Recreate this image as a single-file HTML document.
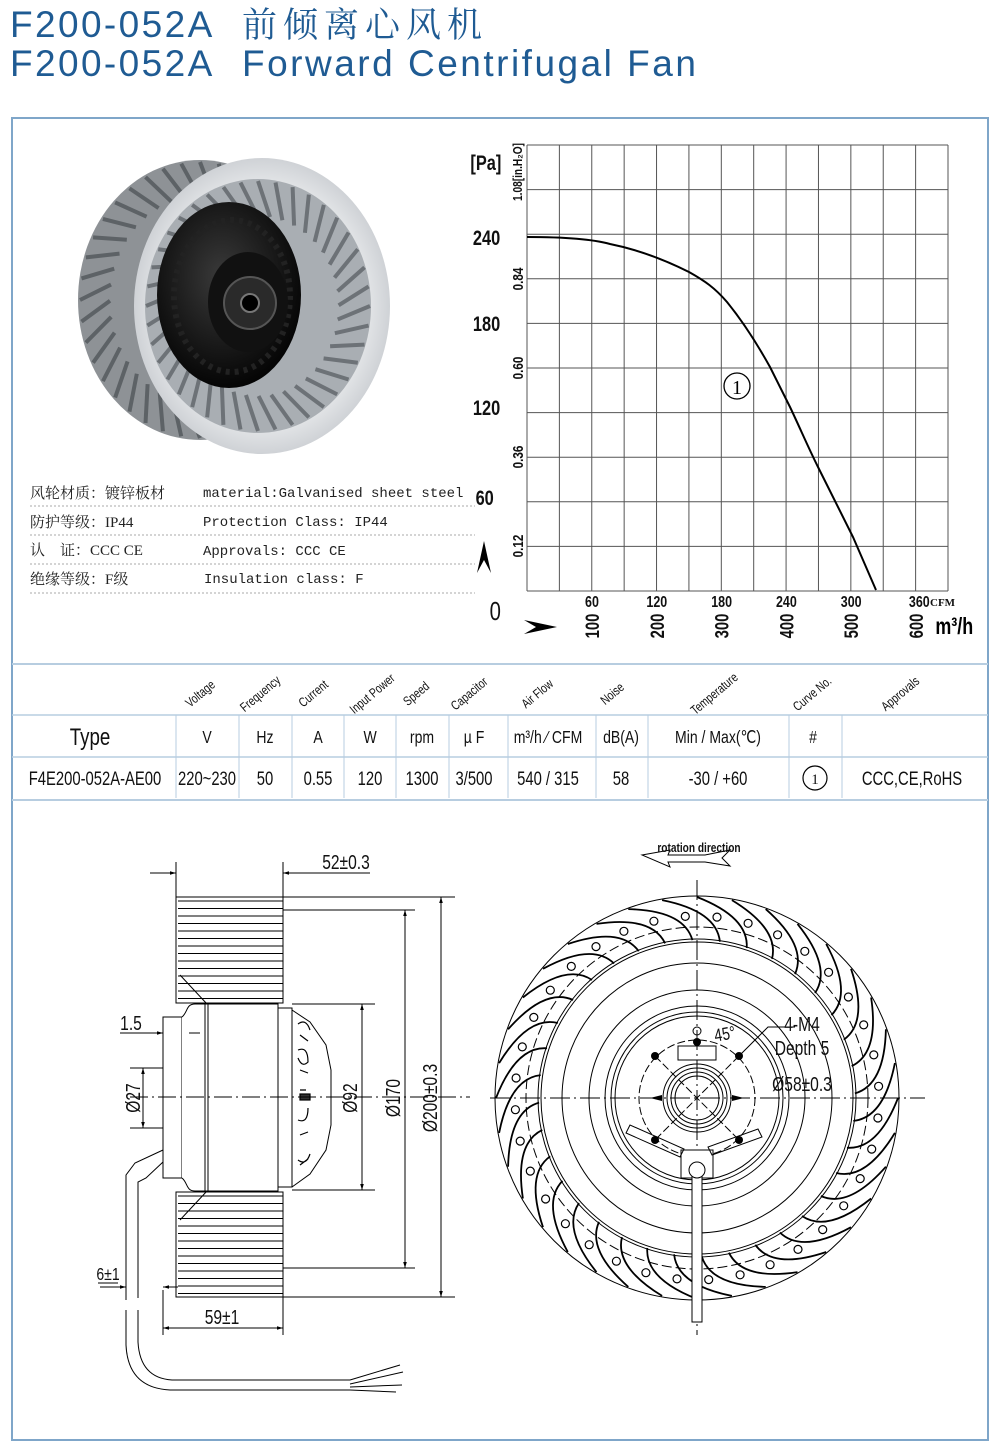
<!DOCTYPE html>
<html><head><meta charset="utf-8">
<style>
html,body{margin:0;padding:0;background:#fff;}
svg{display:block;}
.c{transform-box:fill-box;transform-origin:center;transform:scaleX(.78);font-family:"Liberation Sans",sans-serif;}
</style></head>
<body>
<svg id="s" width="1000" height="1451" viewBox="0 0 1000 1451" xmlns="http://www.w3.org/2000/svg">
<defs>
<marker id="a" viewBox="0 0 10 10" refX="10" refY="5" markerWidth="8" markerHeight="6" orient="auto-start-reverse"><path d="M0,2 L10,5 L0,8 Z" fill="#000"/></marker>
<radialGradient id="rim" cx="50%" cy="50%" r="50%"><stop offset="80%" stop-color="#e6e8ea"/><stop offset="100%" stop-color="#cfd2d6"/></radialGradient>
<radialGradient id="mot" cx="45%" cy="40%" r="60%"><stop offset="0%" stop-color="#3a3a3a"/><stop offset="100%" stop-color="#050505"/></radialGradient>
</defs>
<!-- Title -->
<text x="10" y="37" font-family="Liberation Sans,sans-serif" font-size="37" fill="#1f5b93" letter-spacing="2.4">F200-052A</text>
<text x="242" y="37" font-family="'Noto Serif CJK SC',serif" font-size="35" fill="#1f5b93" letter-spacing="6">前倾离心风机</text>
<text x="10" y="76" font-family="Liberation Sans,sans-serif" font-size="37" fill="#1f5b93" letter-spacing="2.4">F200-052A</text>
<text x="242" y="76" font-family="Liberation Sans,sans-serif" font-size="37" fill="#1f5b93" letter-spacing="2.5">Forward Centrifugal Fan</text>
<!-- Frame -->
<rect x="12" y="118" width="976" height="1322" fill="none" stroke="#7fa6c9" stroke-width="2"/>
<line x1="12" y1="664" x2="988" y2="664" stroke="#b7cde0" stroke-width="2"/>
<line x1="12" y1="800" x2="988" y2="800" stroke="#b7cde0" stroke-width="2"/>

<!-- Fan photo -->
<ellipse cx="200" cy="300" rx="122" ry="140" fill="#8e9296"/>
<g id="backbl"></g>
<ellipse cx="262" cy="306" rx="128" ry="148" fill="url(#rim)"/>
<ellipse cx="258" cy="306" rx="113" ry="127" fill="#a9aeb3"/>
<g id="frontbl"></g>
<ellipse cx="229" cy="295" rx="72" ry="93" fill="url(#mot)"/>
<ellipse cx="232" cy="296" rx="58" ry="76" fill="none" stroke="#222" stroke-width="6" stroke-dasharray="4 5"/>
<ellipse cx="248" cy="302" rx="40" ry="50" fill="#111"/>
<circle cx="250" cy="303" r="26" fill="#2a2a2a" stroke="#555" stroke-width="2"/>
<circle cx="250" cy="303" r="9" fill="#000" stroke="#777" stroke-width="2"/>

<!-- Specs -->
<g font-size="15" fill="#222">
<text x="30" y="498" font-family="'Noto Serif CJK SC',serif">风轮材质：镀锌板材</text>
<text x="30" y="527" font-family="'Liberation Serif','Noto Serif CJK SC',serif">防护等级：IP44</text>
<text x="30" y="555" font-family="'Liberation Serif','Noto Serif CJK SC',serif">认&#160;&#160;&#160;&#160;证：CCC CE</text>
<text x="30" y="584" font-family="'Liberation Serif','Noto Serif CJK SC',serif">绝缘等级：F级</text>
</g>
<g font-size="14" fill="#222" font-family="'Liberation Mono',monospace">
<text x="203" y="497">material:Galvanised sheet steel</text>
<text x="203" y="526">Protection Class: IP44</text>
<text x="203" y="555">Approvals: CCC  CE</text>
<text x="204" y="583">Insulation class: F</text>
</g>
<g stroke="#aaa" stroke-dasharray="2 2" stroke-width="1">
<line x1="30" y1="506" x2="475" y2="506"/><line x1="30" y1="535" x2="475" y2="535"/>
<line x1="30" y1="564" x2="475" y2="564"/><line x1="30" y1="593" x2="475" y2="593"/>
</g>

<!-- Chart -->
<g id="grid" stroke="#555" stroke-width="1"></g>
<path d="M527,237 C560,237 592,239 610,244 C640,250 665,260 689,272 C705,281 715,288 727,302 C740,318 755,340 770,367 L790,407 C800,428 808,447 818,467 L853,537 L876,590" fill="none" stroke="#000" stroke-width="2"/>
<circle cx="737" cy="386" r="13" fill="none" stroke="#000" stroke-width="1.3"/>
<text x="737" y="394" text-anchor="middle" font-family="'Liberation Serif',serif" font-size="20">1</text>
<g font-size="21" font-weight="bold" fill="#111">
<text class="c" x="466" y="170">[Pa]</text>
<text class="c" x="469" y="245">240</text>
<text class="c" x="469" y="331">180</text>
<text class="c" x="469" y="415">120</text>
<text class="c" x="473" y="505">60</text>
<text class="c" x="488" y="620" font-size="26" font-weight="normal">0</text>
</g>
<path d="M484,541 L491,573 L484,560 L477,573 Z" fill="#000"/>
<path d="M557,627 L524,620 L536,627 L524,634 Z" fill="#000"/>
<g transform="rotate(-90 517 172)"><text class="c" x="517" y="177" text-anchor="middle" font-size="13" font-weight="bold" fill="#111">1.08[in.H₂O]</text></g>
<g font-size="15" font-weight="bold" fill="#111" id="ylab"></g>
<g font-size="16" font-weight="bold" fill="#111" id="xlab"></g>
<text class="c" x="930" y="634" font-size="23" font-weight="bold">m³/h</text>

<!-- Table -->
<g stroke="#b7cde0" stroke-width="1.5">
<line x1="12" y1="715" x2="988" y2="715"/>
<line x1="12" y1="757" x2="988" y2="757"/>
</g>
<g stroke="#b7cde0" stroke-width="1" id="vcols"></g>
<g id="thead" font-size="13" fill="#111"></g>
<text class="c" x="90" y="745" text-anchor="middle" font-size="24" fill="#111">Type</text>
<g id="tu" font-size="18" fill="#111"></g>
<g id="tr" font-size="19" fill="#111"></g>
<circle cx="815" cy="778" r="12" fill="none" stroke="#000" stroke-width="1.2"/>

<!-- Left view drawing -->
<g fill="none" stroke="#000" stroke-width="1">
<g id="lblades"></g>
<rect x="176" y="897" width="107" height="106"/>
<rect x="176" y="1192" width="107" height="105"/>
<path d="M180,975 L207,1004 M180,1220 L207,1191"/>
<rect x="163" y="1017" width="19" height="161" fill="#fff"/>
<path d="M182,1017 C188,1012 186,1004 195,1004 L278,1004 L278,1191 L195,1191 C186,1191 188,1183 182,1178" fill="#fff"/>
<line x1="205" y1="1004" x2="205" y2="1191"/><line x1="208" y1="1004" x2="208" y2="1191"/>
<rect x="278" y="1008" width="14" height="179" fill="#fff"/>
<path d="M292,1010 L310,1022 L326,1045 L331,1070 L331,1125 L326,1150 L310,1174 L292,1187"/>
<g stroke-width="1.2">
<path d="M298,1024 q8,-6 12,6 M298,1050 q10,-4 10,12 q-6,6 -10,-4 M300,1090 l6,0 M298,1120 q10,4 10,-12 M298,1160 q8,6 12,-6 M300,1035 l8,6 M300,1070 l8,3 M300,1135 l8,-3 M300,1165 l8,-6"/>
<rect x="300" y="1094" width="10" height="6" fill="#333"/>
</g>
<path d="M163,1150 L135,1163 L126,1175 L126,1300 M163,1162 L146,1178 L138,1182 L138,1298"/>
<path d="M126,1310 L126,1345 Q128,1388 170,1390 L350,1390 M138,1310 L138,1342 Q140,1378 172,1380 L350,1380"/>
<path d="M350,1380 L400,1365 M350,1384 L403,1372 M350,1387 L402,1385 M350,1390 L396,1392"/>
</g>
<!-- Left dims -->
<g stroke="#000" stroke-width="1" fill="none">
<path d="M176,862 L176,897 M283,862 L283,897"/>
<line x1="150" y1="873" x2="176" y2="873" marker-end="url(#a)"/>
<line x1="370" y1="873" x2="283" y2="873" marker-end="url(#a)"/>
<path d="M283,897 L455,897 M283,1297 L455,1297 M283,910 L415,910 M283,1268 L415,1268 M292,1004 L375,1004 M292,1190 L375,1190"/>
<line x1="441" y1="1097" x2="441" y2="897" marker-end="url(#a)"/><line x1="441" y1="1097" x2="441" y2="1297" marker-end="url(#a)"/>
<line x1="405" y1="1097" x2="405" y2="910" marker-end="url(#a)"/><line x1="405" y1="1097" x2="405" y2="1268" marker-end="url(#a)"/>
<line x1="362" y1="1097" x2="362" y2="1004" marker-end="url(#a)"/><line x1="362" y1="1097" x2="362" y2="1190" marker-end="url(#a)"/>
<path d="M130,1068 L163,1068 M130,1128 L163,1128"/>
<line x1="143" y1="1098" x2="143" y2="1068" marker-end="url(#a)"/><line x1="143" y1="1098" x2="143" y2="1128" marker-end="url(#a)"/>
<line x1="120" y1="1033" x2="163" y2="1033" marker-end="url(#a)"/><line x1="200" y1="1033" x2="189" y2="1033"/>
<line x1="100" y1="1287" x2="126" y2="1287" marker-end="url(#a)"/><line x1="178" y1="1287" x2="163" y2="1287" marker-end="url(#a)"/>
<path d="M163,1290 L163,1335 M283,1297 L283,1335"/>
<line x1="223" y1="1328" x2="163" y2="1328" marker-end="url(#a)"/><line x1="223" y1="1328" x2="283" y2="1328" marker-end="url(#a)"/>
<line x1="130" y1="1097" x2="470" y2="1097" stroke-dasharray="18 4 2 4"/>
<path d="M323,873 L370,873 M120,1033 L142,1033 M98,1283 L118,1283"/>
</g>
<g font-size="20" fill="#111">
<text class="c" x="346" y="869" text-anchor="middle">52±0.3</text>
<text class="c" x="131" y="1030" text-anchor="middle">1.5</text>
<text class="c" x="108" y="1280" text-anchor="middle" font-size="18">6±1</text>
<text class="c" x="222" y="1324" text-anchor="middle">59±1</text>
<g transform="rotate(-90 133 1098)"><text class="c" x="133" y="1105" text-anchor="middle">Ø27</text></g>
<g transform="rotate(-90 350 1098)"><text class="c" x="350" y="1105" text-anchor="middle">Ø92</text></g>
<g transform="rotate(-90 393 1098)"><text class="c" x="393" y="1105" text-anchor="middle">Ø170</text></g>
<g transform="rotate(-90 430 1098)"><text class="c" x="430" y="1105" text-anchor="middle">Ø200±0.3</text></g>
</g>

<!-- Right view -->
<g fill="none" stroke="#000" stroke-width="1">
<circle cx="697" cy="1098" r="202"/>
<circle cx="697" cy="1098" r="171" stroke-dasharray="10 4"/>
<circle cx="697" cy="1098" r="159"/>
<circle cx="697" cy="1098" r="156"/>
<circle cx="697" cy="1098" r="135"/>
<circle cx="697" cy="1098" r="108"/>
<circle cx="697" cy="1098" r="92"/>
<circle cx="697" cy="1098" r="86"/>
<circle cx="697" cy="1098" r="82"/>
<circle cx="697" cy="1098" r="58" stroke-dasharray="8 3"/>
<circle cx="697" cy="1098" r="34"/><circle cx="697" cy="1098" r="30"/><circle cx="697" cy="1098" r="26"/><circle cx="697" cy="1098" r="22"/>
<g id="rblades"></g>
<line x1="697" y1="880" x2="697" y2="1335" stroke-dasharray="20 4 2 4"/>
<line x1="490" y1="1098" x2="925" y2="1098" stroke-dasharray="20 4 2 4"/>
<path d="M655,1056 L739,1140 M739,1056 L655,1140" stroke-dasharray="8 3"/>
<rect x="678" y="1046" width="38" height="14"/>
<path d="M681,1150 L681,1178 L713,1178 L713,1150 Z" fill="#fff"/>
<path d="M692,1165 L692,1322 L702,1322 L702,1165" fill="#fff"/>
<circle cx="697" cy="1170" r="8" fill="#fff"/>
<circle cx="697" cy="1031" r="4"/>
<path d="M630,1125 l-4,8 l54,24 l4,-8 Z M712,1155 l50,-18 l-4,-8 l-50,18 Z"/>
<path d="M739,1056 L768,1027 L795,1027"/>
<path d="M642,855 L670,850 L668,855 L705,855 L730,850 L722,858 L730,866 L705,862 L668,862 L670,867 Z"/>
</g>
<g fill="#000">
<circle cx="697" cy="1042" r="4"/><circle cx="655" cy="1056" r="4"/><circle cx="739" cy="1056" r="4"/><circle cx="655" cy="1140" r="4"/><circle cx="739" cy="1140" r="4"/>
<path d="M650,1098 l12,-3 l0,6 Z M744,1098 l-12,-3 l0,6 Z"/>
</g>
<g font-size="20" fill="#111">
<text class="c" x="802" y="1031" text-anchor="middle">4-M4</text>
<text class="c" x="802" y="1055" text-anchor="middle">Depth 5</text>
<text class="c" x="802" y="1091" text-anchor="middle">Ø58±0.3</text>
<g transform="rotate(-10 725 1035)"><text class="c" x="725" y="1040" font-size="18" text-anchor="middle">45°</text></g>
<text class="c" x="699" y="852" font-size="13" font-weight="bold" text-anchor="middle">rotation direction</text>
</g>
</svg>
<script>
var NS="http://www.w3.org/2000/svg";
function el(p,t,a,txt){var e=document.createElementNS(NS,t);for(var k in a)e.setAttribute(k,a[k]);if(txt!=null)e.textContent=txt;(typeof p=="string"?document.getElementById(p):p).appendChild(e);return e;}
function rtext(p,x,y,ang,txt,attrs){var g=el(p,'g',{transform:'rotate('+ang+' '+x+' '+y+')'});var a={x:x,y:y,'text-anchor':'middle','class':'c'};for(var k in attrs)a[k]=attrs[k];el(g,'text',a,txt);}
var gx0=527,gx1=948,gy0=145,gy1=591;
for(var i=0;i<=13;i++){var x=gx0+(gx1-gx0)*i/13;el('grid','line',{x1:x,y1:gy0,x2:x,y2:gy1});}
for(var j=0;j<=10;j++){var y=gy0+(gy1-gy0)*j/10;el('grid','line',{x1:gx0,y1:y,x2:gx1,y2:y});}
[["0.84",279],["0.60",368],["0.36",457],["0.12",546]].forEach(function(v){rtext('ylab',517,v[1],-90,v[0],{dy:6});});
["60","120","180","240","300"].forEach(function(v,i){var x=592+64.8*i;el('xlab','text',{x:x,y:607,'text-anchor':'middle','class':'c'},v);});
el('xlab','text',{x:906,y:607,'class':'c'},"360");
el('xlab','text',{x:930,y:606,'font-size':11},"CFM");
["100","200","300","400","500","600"].forEach(function(v,i){var x=592+64.8*i;rtext('xlab',x,626,-90,v,{dy:7,'font-size':19});});
[176,239,292,344,396,449,508,596,648,789,842].forEach(function(x){el('vcols','line',{x1:x,y1:715,x2:x,y2:798});});
[["Voltage",203],["Frequency",263],["Current",316],["Input Power",375],["Speed",419],["Capacitor",472],["Air Flow",540],["Noise",615],["Temperature",717],["Curve No.",815],["Approvals",903]].forEach(function(h){rtext('thead',h[1],697,-40,h[0],{});});
[["V",207],["Hz",265],["A",318],["W",370],["rpm",422],["µ F",474],["m³/h ⁄ CFM",548],["dB(A)",621],["Min / Max(℃)",718],["#",813]].forEach(function(u){el('tu','text',{x:u[1],y:743,'text-anchor':'middle','class':'c'},u[0]);});
[["F4E200-052A-AE00",95],["220~230",207],["50",265],["0.55",318],["120",370],["1300",422],["3/500",474],["540 / 315",548],["58",621],["-30 / +60",718],["CCC,CE,RoHS",912]].forEach(function(u){el('tr','text',{x:u[1],y:785,'text-anchor':'middle','class':'c'},u[0]);});
el('tr','text',{x:815,y:784,'text-anchor':'middle','font-size':15,'font-family':'Liberation Serif,serif'},"1");
for(var y=901;y<1003;y+=7.5){el('lblades','line',{x1:178,y1:y,x2:283,y2:y});}
for(var y=1196;y<1297;y+=7.5){el('lblades','line',{x1:178,y1:y,x2:283,y2:y});}
var cx=697,cy=1098;
function p(r,a){return (cx+r*Math.cos(a)).toFixed(1)+","+(cy+r*Math.sin(a)).toFixed(1);}
for(var k=0;k<36;k++){var t=k*10*Math.PI/180;
 el('rblades','path',{d:"M"+p(201,t)+" Q"+p(188,t+0.28)+" "+p(158,t+0.32),'stroke-width':1.8});
 el('rblades','circle',{cx:(cx+182*Math.cos(t+0.11)).toFixed(1),cy:(cy+182*Math.sin(t+0.11)).toFixed(1),r:4,'stroke-width':1.2});
}
function pb(g,ecx,ecy,rx,ry,ri,n,col,w){for(var k=0;k<n;k++){var t=k*2*Math.PI/n;
 el(g,'line',{x1:ecx+rx*Math.cos(t),y1:ecy+ry*Math.sin(t),x2:ecx+rx*ri*Math.cos(t+0.15),y2:ecy+ry*ri*Math.sin(t+0.15),stroke:col,'stroke-width':w});}}
pb('backbl',200,300,120,138,0.75,40,'#5d6266',4);
pb('frontbl',258,306,112,125,0.72,40,'#6d7277',4);
</script>
</body></html>
